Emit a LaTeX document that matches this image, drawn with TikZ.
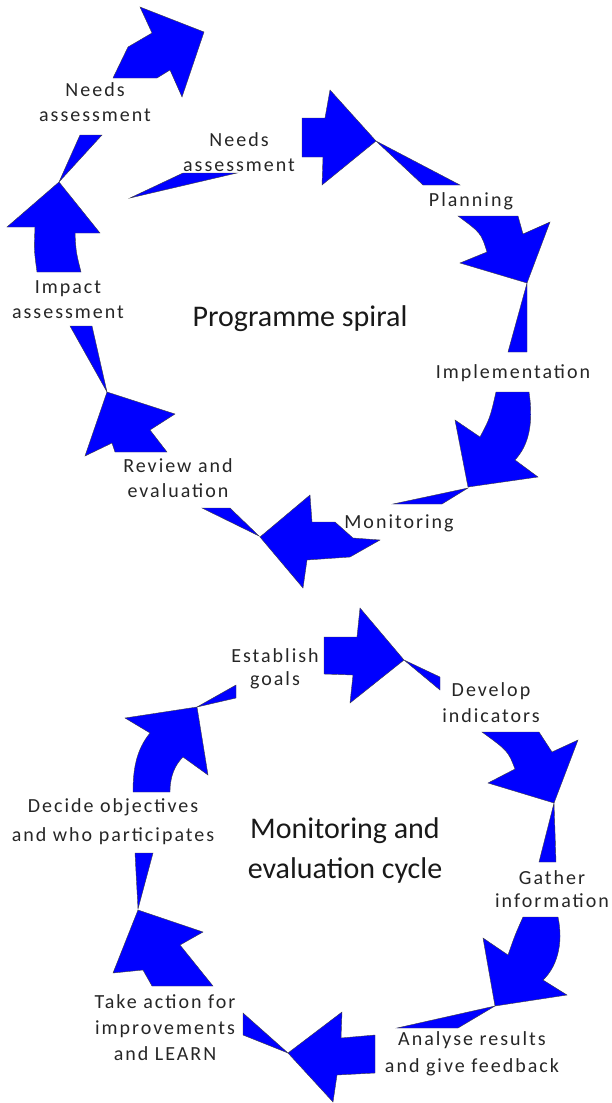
\documentclass[tikz,border=0pt]{standalone}
\usepackage{fontspec}
\setmainfont{Carlito}
\newfontfamily\labfont[LetterSpace=10]{Carlito}
\definecolor{arrowblue}{RGB}{0,0,255}
\begin{document}
\begin{tikzpicture}[x=1pt,y=-1pt,
  piece/.style={fill=arrowblue, draw=black!75, line width=0.4pt, line join=miter},
  lab/.style={font=\labfont\fontsize{20}{#1}\selectfont, text=black!85, align=center, inner sep=0pt},
  lab/.default=25,
  ttl/.style={font=\fontsize{30}{#1}\selectfont, text=black!90, align=center, inner sep=0pt},
  ttl/.default=36]
\fill[white] (0,0) rectangle (612,1103);
\useasboundingbox (0,0) rectangle (612,1103);

% ---------- Programme spiral: arrow pieces ----------
\path[piece] (113,78) -- (128,47) -- (152,33) -- (140,7) -- (204,32) -- (182,97) -- (170,70) -- (157,78) -- cycle;
\path[piece] (80,135) -- (102,135) -- (59,182) -- cycle;
\path[piece] (59,182) -- (100,233) -- (75,233) .. controls (76,252) .. (81,272) -- (37,272) .. controls (34,250) .. (35,227) -- (7,227) -- cycle;
\path[piece] (70,326) -- (92,326) -- (107,392) -- cycle;
\path[piece] (107,392) -- (175,414) -- (150,430) -- (167,452) -- (115,452) -- (112,443) -- (85,456) -- cycle;
\path[piece] (202,508) -- (230,508) -- (259,536) -- cycle;
\path[piece] (260,537) -- (310,495) -- (312,522) -- (335,522) -- (353,538) -- (380,540) -- (350,557) -- (307,560) -- (303,588) -- cycle;
\path[piece] (393,504) -- (468,488) -- (442,504) -- cycle;
\path[piece] (496,392) -- (529,392) .. controls (534,425) and (528,446) .. (515,460) -- (538,477) -- (468,487) -- (455,420) -- (480,437) .. controls (490,418) .. (496,392) -- cycle;
\path[piece] (527,283) -- (527,352) -- (508,352) -- cycle;
\path[piece] (458,216) -- (518,216) -- (523,234) -- (550,222) -- (527,283) -- (460,263) -- (487,252) .. controls (481,233) .. (458,216) -- cycle;
\path[piece] (376,141) -- (460,185) -- (423,185) -- cycle;
\path[piece] (302,118) -- (325,118) -- (330,90) -- (376,141) -- (322,185) -- (323,157) -- (302,157) -- cycle;
\path[piece] (130,198) -- (183,173) -- (237,173) -- cycle;

% ---------- Monitoring and evaluation cycle: arrow pieces ----------
\path[piece] (324,637) -- (357,637) -- (360,608) -- (404,660) -- (350,703) -- (353,675) -- (324,674) -- cycle;
\path[piece] (404,660) -- (440,677) -- (440,690) -- cycle;
\path[piece] (482,732) -- (539,732) -- (552,752) -- (578,740) -- (554,803) -- (488,783) -- (515,769) .. controls (508,751) .. (482,732) -- cycle;
\path[piece] (554,803) -- (556,862) -- (539,862) -- cycle;
\path[piece] (523,917) -- (558,917) .. controls (564,945) and (556,968) .. (543,980) -- (567,995) -- (495,1006) -- (483,938) -- (508,955) .. controls (515,935) .. (523,917) -- cycle;
\path[piece] (495,1006) -- (458,1028) -- (397,1028) -- cycle;
\path[piece] (288,1053) -- (342,1012) -- (341,1038) -- (375,1035) -- (375,1073) -- (337,1075) -- (333,1102) -- cycle;
\path[piece] (288,1053) -- (243,1035) -- (243,1013) -- cycle;
\path[piece] (138,910) -- (203,932) -- (180,945) -- (213,986) -- (152,986) -- (143,970) -- (113,973) -- cycle;
\path[piece] (135,853) -- (153,853) -- (138,909) -- cycle;
\path[piece] (197,707) -- (125,718) -- (150,733) .. controls (136,750) and (133,770) .. (133,792) -- (170,792) .. controls (170,776) and (175,765) .. (183,757) -- (208,775) -- cycle;
\path[piece] (197,707) -- (236,685) -- (236,698) -- cycle;

% ---------- labels ----------
\node[lab] (needsA) at (95,102) {Needs\\assessment};
\node[lab] (needsB) at (239,152) {Needs\\assessment};
\node[lab] (plan) at (471,201) {Planning};
\node[lab] (impl) at (513,373) {Implementation};
\node[lab] (mon) at (399,523) {Monitoring};
\node[lab] (review) at (178,478) {Review and\\evaluation};
\node[lab] (impact) at (68,300) {Impact\\assessment};
\node[ttl] (spiral) at (300,319) {Programme spiral};

\node[lab=23] (goals) at (275,669) {Establish\\goals};
\node[lab=26] (indic) at (491,703) {Develop\\indicators};
\node[lab=23] (gather) at (552,889) {Gather\\information};
\node[lab=27] (analyse) at (472,1054) {Analyse results\\and give feedback};
\node[lab=26] (action) at (165,1028) {Take action for\\improvements\\and LEARN};
\node[lab=29] (decide) at (113,822) {Decide objectives\\and who participates};
\node[ttl=40] (cycle) at (345,850) {Monitoring and\\evaluation cycle};
\end{tikzpicture}
\end{document}
